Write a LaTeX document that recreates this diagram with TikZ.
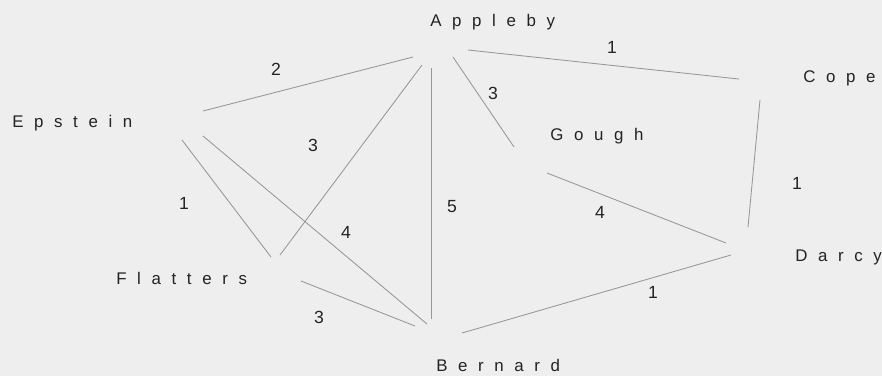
\documentclass[tikz,border=0pt]{standalone}
\usepackage{fontspec}
\usepackage{tikz}
\setmainfont{Liberation Sans}
\newfontfamily\spacedsans[LetterSpace=63]{Liberation Sans}
\definecolor{paperbg}{RGB}{238,238,238}
\definecolor{inkgrey}{RGB}{35,35,35}
\definecolor{edgegrey}{RGB}{150,150,150}
\tikzset{
  base/.style={inner sep=0pt, text=inkgrey},
  person/.style={base, anchor=base west, font=\spacedsans\fontsize{12}{14}\selectfont},
  wt/.style={base, font=\fontsize{12.5}{14}\selectfont},
  edge/.style={draw=edgegrey, line width=0.6pt},
}
\begin{document}
\begin{tikzpicture}[x=0.025cm,y=-0.025cm]
  \fill[paperbg] (0,0) rectangle (882,376);
  \useasboundingbox (0,0) rectangle (882,376);
  % names
  \node[person] (ap) at (430,26)  {Appleby};
  \node[person] (co) at (803,82)  {Cope};
  \node[person] (ep) at (12,127)  {Epstein};
  \node[person] (go) at (550,140) {Gough};
  \node[person] (fl) at (116,284) {Flatters};
  \node[person] (da) at (795,261) {Darcy};
  \node[person] (be) at (436,371) {Bernard};
  % edges, ends given from each name's base west corner
  \foreach \a/\ax/\ay/\b/\bx/\by in {ap/-17/31/ep/191/-16, ap/-8/39/fl/164/-29, ap/1/42/be/-5/-52,
      ap/23/31/go/-36/7, ap/38/24/co/-64/-3, co/-43/18/da/-47/-34, go/-3/33/da/-69/-18,
      be/26/-38/da/-64/-6, ep/170/13/fl/155/-27, ep/191/9/be/-9/-47, fl/185/-3/be/-21/-45}
    {\draw[edge] ([shift={(\ax,\ay)}]\a.base west) -- ([shift={(\bx,\by)}]\b.base west);}
  % weights
  \foreach \w/\x/\y in {2/276/69, 3/313/145, 5/452/207, 3/493/93, 1/612/47, 1/797/183,
      4/600/212, 1/653/292, 1/184/203, 4/346/232, 3/319/317}
    {\node[wt] at (\x,\y) {\w};}
\end{tikzpicture}
\end{document}
